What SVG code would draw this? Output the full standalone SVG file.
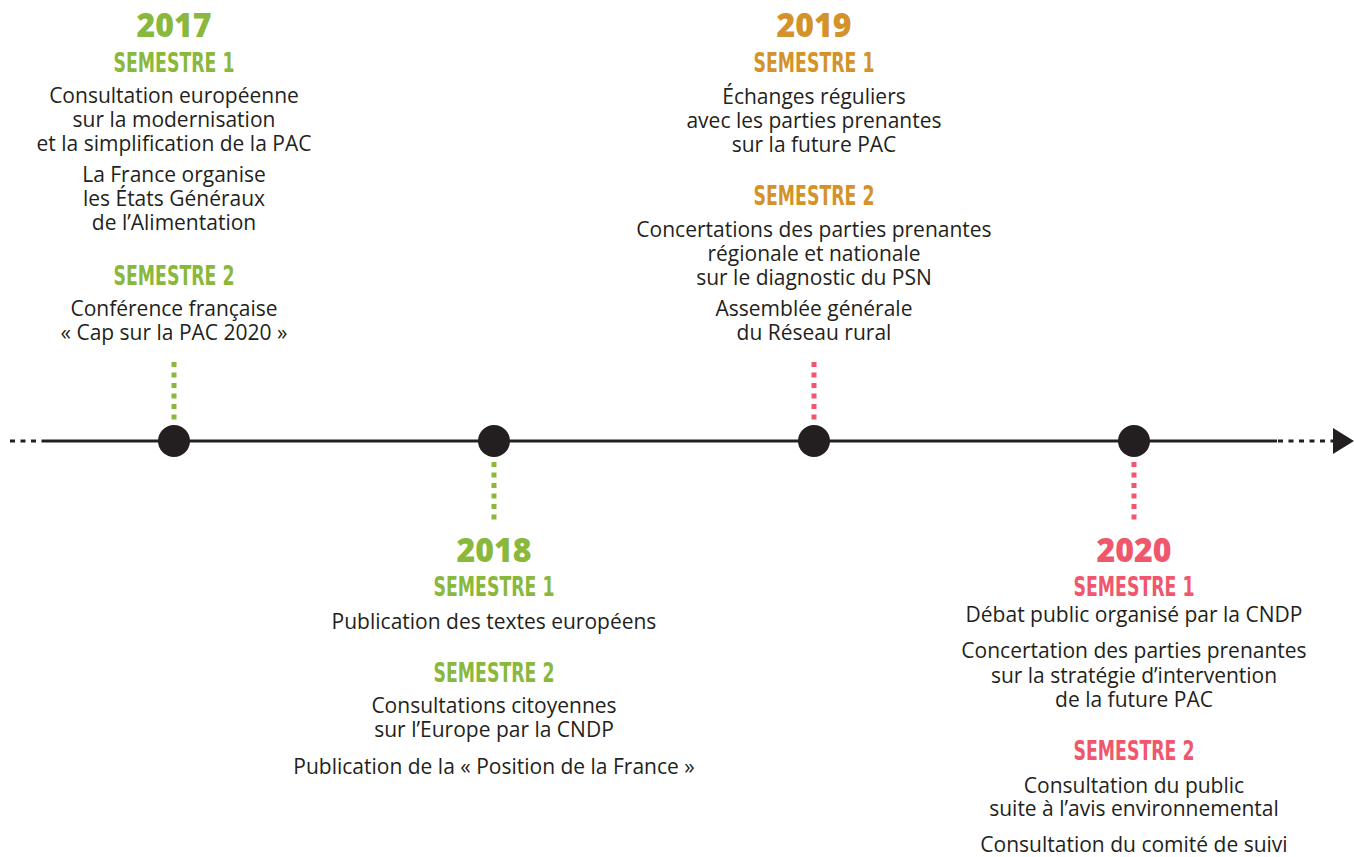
<svg xmlns="http://www.w3.org/2000/svg" width="1354" height="857" viewBox="0 0 1354 857">
<style>
.b{font-family:"Open Sans","Liberation Sans",sans-serif;font-size:21px;fill:#231f20;text-anchor:middle}
.y{font-family:"Open Sans","Liberation Sans",sans-serif;font-size:33px;font-weight:800;text-anchor:middle}
.s{font-family:"Liberation Sans Narrow","DejaVu Sans Condensed","Liberation Sans",sans-serif;font-size:27px;font-weight:bold;text-anchor:middle}
.g{fill:#8ab83c}.o{fill:#d4922a}.p{fill:#f0566c}
.dg{stroke:#8ab83c;stroke-width:5;stroke-dasharray:5 5.5}
.dp{stroke:#f0566c;stroke-width:5;stroke-dasharray:5 5.5}
.dot{fill:#231f20}
</style>
<g id="connectors">
<line x1="10" y1="441" x2="42" y2="441" stroke="#231f20" stroke-width="3" stroke-dasharray="5 5.5"/>
<line x1="42" y1="441" x2="1277" y2="441" stroke="#231f20" stroke-width="3"/>
<line x1="1278" y1="441" x2="1333" y2="441" stroke="#231f20" stroke-width="3" stroke-dasharray="5 5.5"/>
<polygon points="1333,428 1354,441 1333,454" fill="#231f20"/>
<line class="dg" x1="174" y1="362" x2="174" y2="420"/>
<line class="dg" x1="494" y1="462" x2="494" y2="520"/>
<line class="dp" x1="814" y1="362" x2="814" y2="420"/>
<line class="dp" x1="1134" y1="462" x2="1134" y2="520"/>
</g>
<g id="dot2017"><circle class="dot" cx="174" cy="441" r="16"/></g>
<g id="dot2018"><circle class="dot" cx="494" cy="441" r="16"/></g>
<g id="dot2019"><circle class="dot" cx="814" cy="441" r="16"/></g>
<g id="dot2020"><circle class="dot" cx="1134" cy="441" r="16"/></g>
<g id="n2017">
<text class="y g" x="174" y="37" textLength="75" lengthAdjust="spacingAndGlyphs">2017</text>
<text class="s g" x="174" y="72" textLength="121" lengthAdjust="spacingAndGlyphs">SEMESTRE 1</text>
<text class="b" x="174" y="103">Consultation européenne</text>
<text class="b" x="174" y="127">sur la modernisation</text>
<text class="b" x="174" y="151">et la simplification de la PAC</text>
<text class="b" x="174" y="182">La France organise</text>
<text class="b" x="174" y="206">les États Généraux</text>
<text class="b" x="174" y="230">de l’Alimentation</text>
<text class="s g" x="174" y="285" textLength="121" lengthAdjust="spacingAndGlyphs">SEMESTRE 2</text>
<text class="b" x="174" y="316">Conférence française</text>
<text class="b" x="174" y="340">« Cap sur la PAC 2020 »</text>
</g>
<g id="n2018">
<text class="y g" x="494" y="562" textLength="75" lengthAdjust="spacingAndGlyphs">2018</text>
<text class="s g" x="494" y="596" textLength="121" lengthAdjust="spacingAndGlyphs">SEMESTRE 1</text>
<text class="b" x="494" y="629">Publication des textes européens</text>
<text class="s g" x="494" y="682" textLength="121" lengthAdjust="spacingAndGlyphs">SEMESTRE 2</text>
<text class="b" x="494" y="713">Consultations citoyennes</text>
<text class="b" x="494" y="737">sur l’Europe par la CNDP</text>
<text class="b" x="494" y="774">Publication de la « Position de la France »</text>
</g>
<g id="n2019">
<text class="y o" x="814" y="37" textLength="75" lengthAdjust="spacingAndGlyphs">2019</text>
<text class="s o" x="814" y="72" textLength="121" lengthAdjust="spacingAndGlyphs">SEMESTRE 1</text>
<text class="b" x="814" y="104">Échanges réguliers</text>
<text class="b" x="814" y="128">avec les parties prenantes</text>
<text class="b" x="814" y="152">sur la future PAC</text>
<text class="s o" x="814" y="205" textLength="121" lengthAdjust="spacingAndGlyphs">SEMESTRE 2</text>
<text class="b" x="814" y="237">Concertations des parties prenantes</text>
<text class="b" x="814" y="261">régionale et nationale</text>
<text class="b" x="814" y="285">sur le diagnostic du PSN</text>
<text class="b" x="814" y="316">Assemblée générale</text>
<text class="b" x="814" y="340">du Réseau rural</text>
</g>
<g id="n2020">
<text class="y p" x="1134" y="562" textLength="75" lengthAdjust="spacingAndGlyphs">2020</text>
<text class="s p" x="1134" y="596" textLength="121" lengthAdjust="spacingAndGlyphs">SEMESTRE 1</text>
<text class="b" x="1134" y="622">Débat public organisé par la CNDP</text>
<text class="b" x="1134" y="658">Concertation des parties prenantes</text>
<text class="b" x="1134" y="683">sur la stratégie d’intervention</text>
<text class="b" x="1134" y="707">de la future PAC</text>
<text class="s p" x="1134" y="760" textLength="121" lengthAdjust="spacingAndGlyphs">SEMESTRE 2</text>
<text class="b" x="1134" y="793">Consultation du public</text>
<text class="b" x="1134" y="816">suite à l’avis environnemental</text>
<text class="b" x="1134" y="852">Consultation du comité de suivi</text>
</g>
</svg>
